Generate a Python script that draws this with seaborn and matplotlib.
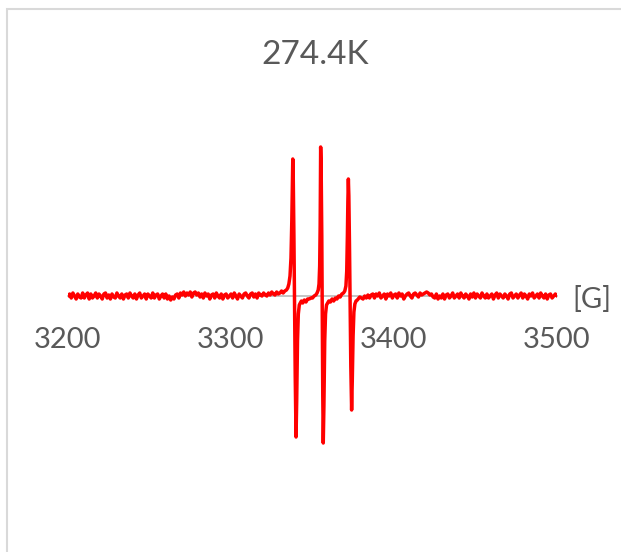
import numpy as np
import pandas as pd
import matplotlib
matplotlib.use("Agg")
import matplotlib.pyplot as plt
import seaborn as sns
from matplotlib.patches import Rectangle

# EPR spectrum (field in G, signal in arbitrary units)
left_start = 3200
left_base = [
    0, 2, -2, 3, 0, -3, 2, -1, -2, 3,
    -2, 1, 3, -3, 2, -2, 0, 3, -2, 2,
    0, -3, 2, 3, -2, 1, -3, 2, -1, -2,
    3, 0, -2, 2, -3, 1, 2, -2, 3, 0,
    -2, 2, -3, 1, 3, -2, 0, 2, -3, 2,
    0, -2, 3, -2, 1, 2, -3, 0, 2, -2,
    2, -3, 0, -4, -1, -3, 1, 2, -2, 3,
    1, 4, 0, 3, 1, 4, -1, 3, 4, 1,
    3, -1, 2, -2, 3, 0, 2, -3, 1, 2,
    -2, 3, 0, -2, 2, -3, 1, 2, -2, 0,
    2, -2, 3, 0, -3, 2, 0, -2, 2, 3,
    0, -2, 2, 3, -1, 2, -2, 3, 1, 0,
    3, 1, 0, 3, 1, 4, 2, 1, 4, 2,
    3, 5, 3, 5,
]

line_field = [
    3334, 3334.8, 3335.5, 3336.2, 3336.8, 3337.3, 3337.7, 3337.9, 3338.2, 3338.6,
    3339.0, 3339.4, 3339.9, 3340.3, 3340.8, 3341.3, 3341.9, 3342.5, 3343.2, 3344,
    3345, 3346, 3347, 3348, 3349, 3350, 3351, 3352, 3352.8, 3353.5,
    3354.0, 3354.4, 3354.7, 3354.9, 3355.0, 3355.3, 3355.7, 3356.0, 3356.3, 3356.6,
    3357.0, 3357.5, 3358.0, 3358.6, 3359.3, 3360, 3361, 3362, 3363, 3364,
    3365, 3366, 3367, 3368, 3369, 3369.8, 3370.5, 3371.0, 3371.4, 3371.7,
    3372.0, 3372.3, 3372.7, 3373.1, 3373.5, 3374.0, 3374.4, 3374.9, 3375.4, 3376.0,
    3376.7, 3377.5,
]
line_signal = [
    6, 8, 12, 20, 38, 75, 115, 137, 118, 60,
    -10, -80, -141, -105, -45, -18, -9, -7, -5, -7,
    -4, -6, -3, -3, -2, -2, 0, 1, 3, 6,
    12, 30, 70, 120, 149, 130, 60, -20, -100, -147,
    -110, -45, -18, -9, -7, -5, -6, -3, -5, -2,
    -3, 0, -1, 2, 3, 5, 10, 25, 60, 95,
    117, 100, 50, -15, -70, -114, -85, -40, -16, -8,
    -5, -4,
]

right_start = 3378
right_base = [
    -3, -1, -2, -3, 0, -2, 1, -2, 1, 2,
    -2, 2, 0, 3, -2, 0, 2, -3, 2, 0,
    3, -2, 1, 2, -2, 3, 0, 2, -3, 0,
    2, 3, 0, -2, 2, 3, 1, -1, 3, 1,
    2, 3, 4, 3, 1, 2, -1, -2, 2, -3,
    0, -2, 2, -3, 1, 2, -2, 0, 3, -2,
    0, 2, -2, 3, 0, -2, 2, 0, -3, 2,
    -1, 3, -2, 2, 0, -2, 3, 0, -2, 2,
    -2, 0, 2, -3, 1, 3, -2, 2, 0, -2,
    2, 0, -3, 2, 3, -2, 0, 2, -2, 1,
    3, -2, 2, 0, -3, 2, 0, 3, -2, 0,
    2, -2, 3, 0, -2, 2, -3, 1, 2, -2,
    0, 2, 0,
]

field = (list(left_start + np.arange(len(left_base))) + line_field
         + list(right_start + np.arange(len(right_base))))
signal = left_base + line_signal + right_base
df = pd.DataFrame({"field": field, "signal": signal})

sns.set_style("white")
plt.rcParams["font.family"] = ["Lato", "DejaVu Sans"]

W, H = 621, 552
fig = plt.figure(figsize=(W / 100, H / 100), dpi=100)
ax = fig.add_axes([68 / W, 56 / H, 489 / W, 400 / H])

sns.lineplot(data=df, x="field", y="signal", color="#ff0000", linewidth=2.5,
             sort=False, estimator=None, ax=ax)

ax.set_xlim(3200, 3500)
ax.set_ylim(-200, 200)
ax.set_xticks([3200, 3300, 3400, 3500])
ax.set_yticks([])
ax.set_xlabel("")
ax.set_ylabel("")
for s in ["top", "right", "left"]:
    ax.spines[s].set_visible(False)
ax.spines["bottom"].set_position(("data", 0))
ax.spines["bottom"].set_color("#bfbfbf")
ax.spines["bottom"].set_linewidth(1.3)
ax.spines["bottom"].set_zorder(1)
ax.tick_params(axis="x", direction="inout", length=14, width=1.3, color="#bfbfbf",
               labelsize=21, labelcolor="#595959", pad=15)
ax.set_facecolor("none")

fig.text(315 / W, 1 - 55 / H, "274.4K", ha="center", va="center",
         fontsize=24, color="#595959")
fig.text(572 / W, 1 - 299 / H, "[G]", ha="left", va="center",
         fontsize=21, color="#595959")

fig.patches.append(Rectangle((7 / W, -0.1), 1.2, 1.1 - 9 / H,
                             transform=fig.transFigure, fill=False,
                             edgecolor="#d9d9d9", linewidth=1.5))

fig.savefig("out.png", dpi=100)
